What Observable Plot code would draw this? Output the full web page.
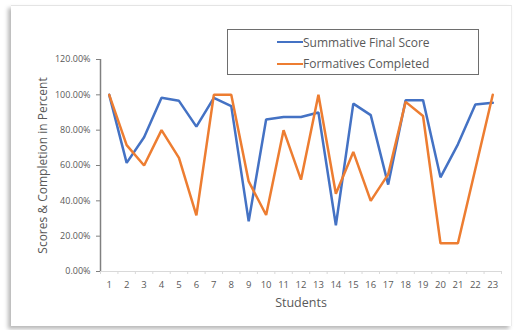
<!DOCTYPE html>
<html>
<head>
<meta charset="utf-8">
<script src="https://cdn.jsdelivr.net/npm/d3@7"></script>
<script src="https://cdn.jsdelivr.net/npm/@observablehq/plot@0.6"></script>
<style>
  html, body { margin: 0; padding: 0; background: #fff; }
  #wrap { position: relative; width: 519px; height: 330px; overflow: hidden; font-family: "Open Sans", sans-serif; }
  #card {
    position: absolute; left: 11px; top: 5px; width: 500px; height: 320px;
    background: #fff; border-top: 1px solid #e4e4e4; border-right: 1px solid #ececec;
    box-shadow: -3px 3px 4px rgba(0,0,0,0.28);
  }
  #chart { position: absolute; left: 0; top: 0; }
  #legend {
    position: absolute; left: 227px; top: 29px; width: 250px; height: 44px;
    border: 1.5px solid #6e6e6e; background: #fff;
    font-size: 12px; color: #595959;
  }
  .row { position: absolute; left: 49px; height: 16px; display: flex; align-items: center; }
  .swatch { width: 26px; height: 0; border-top: 2.5px solid; margin-right: 0; }
</style>
</head>
<body>
<div id="wrap">
  <div id="card"></div>
  <div id="chart"></div>
  <div id="legend"></div>
</div>
<script>
// Students 1–23 and their scores (fractions of 1)
const students = d3.range(1, 24);
const summative = [1.00, 0.615, 0.76, 0.983, 0.966, 0.82, 0.983, 0.936, 0.284, 0.86, 0.875, 0.875, 0.90, 0.262, 0.95, 0.885, 0.492, 0.97, 0.97, 0.533, 0.72, 0.945, 0.955];
const formatives = [1.00, 0.715, 0.60, 0.80, 0.643, 0.318, 1.00, 1.00, 0.51, 0.32, 0.80, 0.52, 1.00, 0.44, 0.677, 0.40, 0.55, 0.96, 0.88, 0.16, 0.16, 0.58, 1.00];
const seriesNames = ["Summative Final Score", "Formatives Completed"];
const seriesColors = ["#4472C4", "#ED7D31"];
const yTicks = [0, 0.2, 0.4, 0.6, 0.8, 1.0, 1.2];

const rows = students.flatMap((s, i) => [
  {student: s, value: summative[i], series: seriesNames[0]},
  {student: s, value: formatives[i], series: seriesNames[1]}
]);
// category boundaries for the small tick marks on the x axis
const bounds = [...students.map(s => s - 0.5), students[students.length - 1] + 0.5];

const plot = Plot.plot({
  width: 519,
  height: 330,
  marginLeft: 100,
  marginRight: 18,
  marginTop: 59,
  marginBottom: 59,
  style: {fontFamily: "Open Sans, sans-serif", background: "transparent", color: "#595959"},
  x: {type: "linear", domain: [0.5, 23.5]},
  y: {domain: [0, 1.2]},
  color: {domain: seriesNames, range: seriesColors},
  marks: [
    Plot.ruleY([0], {stroke: "#d9d9d9", strokeWidth: 1}),
    Plot.axisX(bounds, {tickSize: 3, tickFormat: () => "", stroke: "#d9d9d9", strokeOpacity: 1, label: null}),
    Plot.axisX(students, {tickSize: 0, tickPadding: 10, fontSize: 9.5, fill: "#595959", label: null}),
    Plot.ruleX([0.5], {stroke: "#808080", strokeWidth: 1.5}),
    Plot.axisY(yTicks, {tickSize: 4, tickPadding: 6, tickFormat: d3.format(".2%"), fontSize: 9, fill: "#595959", stroke: "#808080", strokeOpacity: 1, label: null}),
    Plot.lineY(rows, {x: "student", y: "value", z: "series", stroke: "series", strokeWidth: 2.5, strokeLinejoin: "miter"}),
    Plot.text(["Scores & Completion in Percent"], {frameAnchor: "left", dx: -57, rotate: -90, fontSize: 12, fill: "#595959", textAnchor: "middle"}),
    Plot.text(["Students"], {frameAnchor: "bottom", dy: 35, fontSize: 12.5, fill: "#595959", textAnchor: "middle"})
  ]
});
document.getElementById("chart").appendChild(plot);

// legend box
const legend = document.getElementById("legend");
seriesNames.forEach((name, i) => {
  const row = document.createElement("div");
  row.className = "row";
  row.style.top = (4 + i * 21.5) + "px";
  const sw = document.createElement("span");
  sw.className = "swatch";
  sw.style.borderColor = seriesColors[i];
  const label = document.createElement("span");
  label.textContent = name;
  row.appendChild(sw);
  row.appendChild(label);
  legend.appendChild(row);
});
</script>
</body>
</html>
